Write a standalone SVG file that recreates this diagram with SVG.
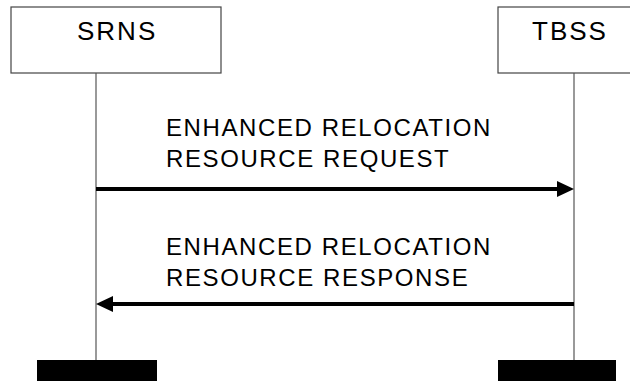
<svg xmlns="http://www.w3.org/2000/svg" width="630" height="381" viewBox="0 0 630 381">
<style>
.box{fill:#fff;stroke:#444;stroke-width:1.2}
.life{stroke:#555;stroke-width:1.2}
.bar{fill:#000}
.title{font-family:"Liberation Sans",Arial,sans-serif;font-size:26px;fill:#000;letter-spacing:2px}
.lbl{font-family:"Liberation Sans",Arial,sans-serif;font-size:24px;fill:#000;letter-spacing:1.6px}
.msg{stroke:#000;stroke-width:4;fill:none}
</style>
<rect width="630" height="381" fill="#fff"/>
<g id="SRNS">
<rect class="box" x="11" y="7" width="210" height="66"/>
<text class="title" x="77" y="40">SRNS</text>
<line class="life" x1="96" y1="73" x2="96" y2="360"/>
<rect class="bar" x="37" y="360" width="120" height="21"/>
</g>
<g id="TBSS">
<rect class="box" x="498" y="7" width="150" height="66"/>
<text class="title" x="532" y="40">TBSS</text>
<line class="life" x1="574" y1="73" x2="574" y2="360"/>
<rect class="bar" x="498" y="360" width="118" height="21"/>
</g>
<g id="connectors">
<g id="msg1">
<line class="msg" x1="96" y1="189" x2="560" y2="189"/>
<polygon points="557,181 574,189 557,197" fill="#000"/>
<text class="lbl" x="166" y="136">ENHANCED RELOCATION</text>
<text class="lbl" x="166" y="167">RESOURCE REQUEST</text>
</g>
<g id="msg2">
<line class="msg" x1="574" y1="304" x2="110" y2="304"/>
<polygon points="113,296 96,304 113,312" fill="#000"/>
<text class="lbl" x="166" y="255">ENHANCED RELOCATION</text>
<text class="lbl" x="166" y="286">RESOURCE RESPONSE</text>
</g>
</g>
</svg>
